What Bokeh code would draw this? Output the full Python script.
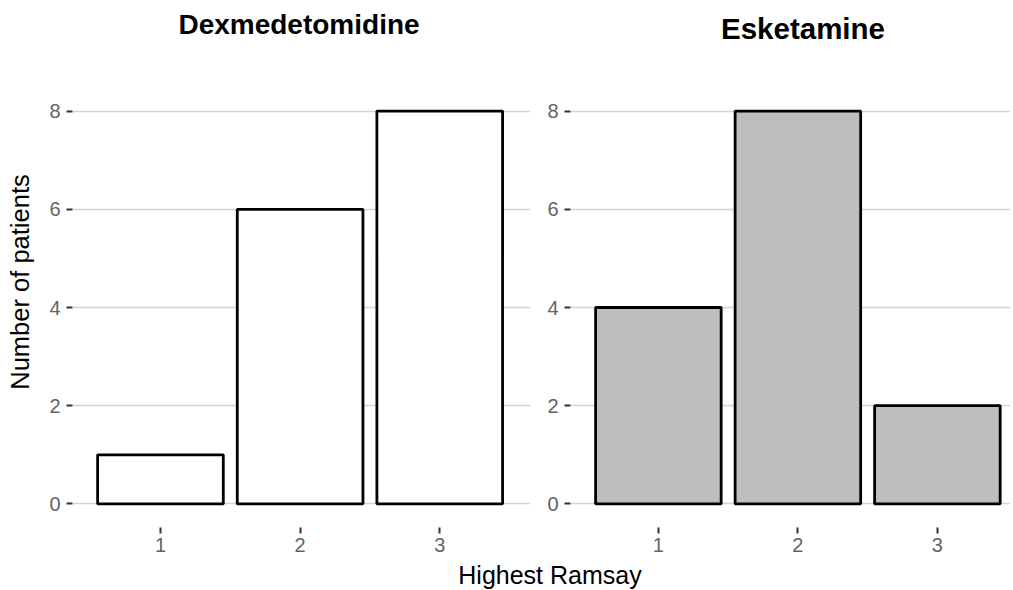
from bokeh.plotting import figure
from bokeh.models import Range1d, FixedTicker, Div
from bokeh.layouts import row, column
from bokeh.embed import file_html
from bokeh.resources import INLINE

# ---- data ----
ramsay = [1, 2, 3]
ramsay_labels = ["1", "2", "3"]
dex_counts = [1, 6, 8]
esk_counts = [4, 8, 2]
y_ticks = [0, 2, 4, 6, 8]
panel_titles = ["Dexmedetomidine", "Esketamine"]
x_title = "Highest Ramsay"
y_title = "Number of patients"

FONT = "Liberation Sans"
TICK_COLOR = "#636363"
Y_LO, Y_HI = -0.44, 8.44
TOTAL_W = 1010


def make_panel(counts, fill, x_end, width, b_left, b_right):
    p = figure(width=width, height=511,
               x_range=Range1d(0.37, x_end), y_range=Range1d(Y_LO, Y_HI),
               output_backend="svg", toolbar_location=None,
               min_border_left=b_left, min_border_right=b_right,
               min_border_top=39, min_border_bottom=36)
    p.vbar(x=ramsay, top=counts, bottom=0, width=0.9,
           fill_color=fill, line_color="black", line_width=2.8)

    p.outline_line_color = None
    p.background_fill_color = "white"
    p.border_fill_color = "white"

    xa = p.xaxis[0]
    xa.ticker = FixedTicker(ticks=ramsay)
    xa.major_label_overrides = {k: v for k, v in zip(ramsay, ramsay_labels)}
    xa.axis_line_color = None
    xa.minor_tick_line_color = None
    xa.major_tick_in = -2
    xa.major_tick_out = 8
    xa.major_tick_line_width = 2
    xa.major_tick_line_color = "#333333"
    xa.major_label_standoff = 4
    xa.major_label_text_font = FONT
    xa.major_label_text_font_size = "20px"
    xa.major_label_text_color = TICK_COLOR

    ya = p.yaxis[0]
    ya.ticker = FixedTicker(ticks=y_ticks)
    ya.axis_line_color = None
    ya.minor_tick_line_color = None
    ya.major_tick_in = 0
    ya.major_tick_out = 6
    ya.major_tick_line_width = 2
    ya.major_tick_line_color = "#333333"
    ya.major_label_standoff = 6
    ya.major_label_text_font = FONT
    ya.major_label_text_font_size = "20px"
    ya.major_label_text_color = TICK_COLOR

    p.xgrid.visible = False
    p.ygrid.ticker = FixedTicker(ticks=y_ticks)
    p.ygrid.grid_line_color = "#d4d4d4"
    p.ygrid.grid_line_width = 1.6
    return p


def text_div(width, height, items):
    inner = ""
    for text, x, y, size, weight, rot in items:
        tr = "translate(-50%,-50%)" + (" rotate(-90deg)" if rot else "")
        inner += (f'<div style="position:absolute;left:{x}px;top:{y}px;'
                  f'transform:{tr};white-space:nowrap;'
                  f"font-family:'{FONT}';font-size:{size}px;"
                  f'font-weight:{weight};color:#000;line-height:1;">{text}</div>')
    html = (f'<div style="position:relative;width:{width}px;height:{height}px;'
            f'overflow:visible;">{inner}</div>')
    return Div(text=html, width=width, height=height, margin=0)


titles = text_div(TOTAL_W, 50, [
    (panel_titles[0], 299, 25, 28, "bold", False),
    (panel_titles[1], 803, 29, 29.5, "bold", False),
])
ylab = text_div(36, 511, [(y_title, 21, 232, 25.5, "normal", True)])
p1 = make_panel(dex_counts, "white", 3.65, 499, 36, 5)
p2 = make_panel(esk_counts, "#bebebe", 3.524, 475, 35, 0)
xlab = text_div(TOTAL_W, 27, [(x_title, 550, 14, 25, "normal", False)])

layout = column(titles, row(ylab, p1, p2, spacing=0), xlab, spacing=0)

open("out.html", "w").write(file_html(layout, INLINE))
